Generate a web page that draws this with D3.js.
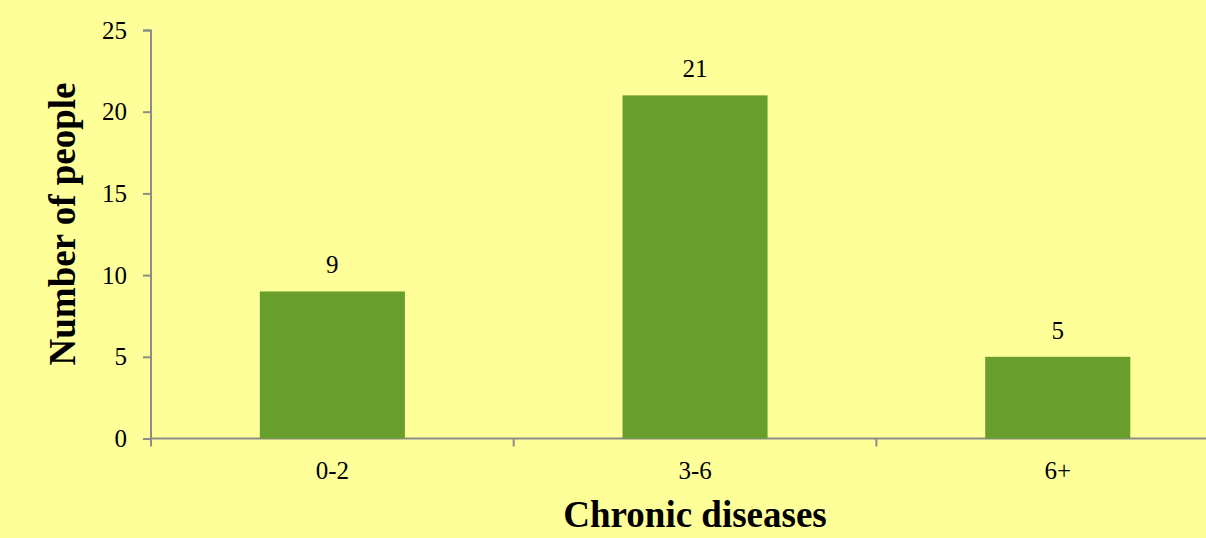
<!DOCTYPE html>
<html>
<head>
<meta charset="utf-8">
<script src="https://cdn.jsdelivr.net/npm/d3@7"></script>
<style>
  body { margin: 0; background: #FFFF99; }
  svg { display: block; }
</style>
</head>
<body>
<div id="chart"></div>
<script>
// chart data
var categories = ["0-2", "3-6", "6+"];
var counts = [9, 21, 5];
var yTicks = [0, 5, 10, 15, 20, 25];

var svgWidth = 1206;
var svgHeight = 538;
var margin = {top: 30, left: 151};
var plotHeight = 408.5;
var bandWidth = 362.7;
var serif = "'Liberation Serif', 'Times New Roman', serif";

var svg = d3.select("#chart")
    .append("svg")
    .attr("width", svgWidth)
    .attr("height", svgHeight);

svg.append("rect")
    .attr("width", svgWidth)
    .attr("height", svgHeight)
    .attr("fill", "#FFFF99");

var chart = svg.append("g")
    .attr("transform", "translate(" + margin.left + "," + margin.top + ")");

// x runs past the right edge, like the original
var x = d3.scaleBand()
    .domain(categories)
    .range([0, bandWidth * categories.length])
    .paddingInner(0.6)
    .paddingOuter(0.3);

var y = d3.scaleLinear()
    .domain([0, 25])
    .range([plotHeight, 0]);

// y axis
var yAxis = chart.append("g")
    .call(d3.axisLeft(y).tickValues(yTicks).tickSize(8).tickPadding(16));
yAxis.attr("font-family", null).attr("font-size", null);
yAxis.selectAll("text")
    .style("font-family", serif)
    .style("font-size", "25px")
    .attr("fill", "#000");
yAxis.selectAll("line").attr("stroke", "#8c8c8c").attr("stroke-width", 2);
yAxis.select(".domain").attr("stroke", "#8c8c8c").attr("stroke-width", 2)
    .attr("d", "M-8,0.5H0V" + plotHeight);

// x axis, ticks at band boundaries
var boundaries = d3.range(categories.length + 1).map(function(i) { return i * bandWidth; });
var xg = chart.append("g")
    .attr("transform", "translate(0," + plotHeight + ")");
xg.append("line")
    .attr("x1", 0).attr("x2", bandWidth * categories.length)
    .attr("stroke", "#8c8c8c").attr("stroke-width", 2);
xg.selectAll(".btick")
    .data(boundaries)
    .enter()
    .append("line")
    .attr("x1", d => d).attr("x2", d => d)
    .attr("y1", 0).attr("y2", 8)
    .attr("stroke", "#8c8c8c").attr("stroke-width", 2);
xg.selectAll(".xlabel")
    .data(categories)
    .enter()
    .append("text")
    .attr("x", d => x(d) + x.bandwidth() / 2)
    .attr("y", 40)
    .attr("text-anchor", "middle")
    .style("font-family", serif)
    .style("font-size", "25px")
    .text(d => d);

// bars
chart.selectAll(".bar")
    .data(counts)
    .enter()
    .append("rect")
    .attr("x", (d, i) => x(categories[i]))
    .attr("width", x.bandwidth())
    .attr("y", d => y(d))
    .attr("height", d => plotHeight - y(d))
    .attr("fill", "#689F2C");

// value labels
chart.selectAll(".value")
    .data(counts)
    .enter()
    .append("text")
    .attr("x", (d, i) => x(categories[i]) + x.bandwidth() / 2)
    .attr("y", d => y(d) - 18)
    .attr("text-anchor", "middle")
    .style("font-family", serif)
    .style("font-size", "25px")
    .text(d => d);

// axis titles
svg.append("text")
    .attr("x", 695)
    .attr("y", 527)
    .attr("text-anchor", "middle")
    .style("font-family", serif)
    .style("font-size", "37px")
    .style("font-weight", "bold")
    .text("Chronic diseases");

svg.append("text")
    .attr("transform", "translate(75,224) rotate(-90)")
    .attr("text-anchor", "middle")
    .style("font-family", serif)
    .style("font-size", "37px")
    .style("font-weight", "bold")
    .text("Number of people");
</script>
</body>
</html>
